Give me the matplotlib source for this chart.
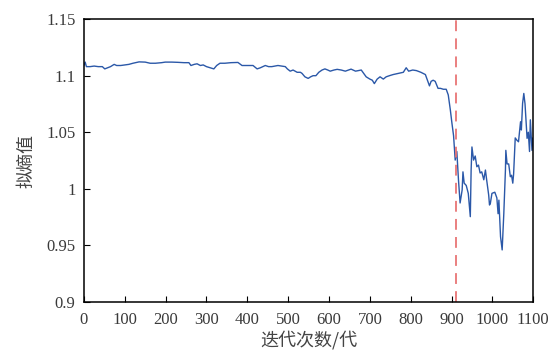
import matplotlib.pyplot as plt

plt.rcParams['font.family'] = ['Liberation Serif', 'Noto Sans CJK SC']

# iterations and entropy values
iters = [0, 3, 6, 15, 25, 35, 45, 51, 58, 65, 74, 80, 90, 100, 110, 120, 135, 150,
         162, 175, 190, 199, 215, 230, 245, 257, 262, 270, 277, 285, 292, 300, 309,
         318, 325, 333, 345, 360, 377, 387, 400, 414, 424, 432, 444, 452, 460, 475,
         493, 498, 505, 512, 522, 530, 534, 541, 549, 555, 561, 568, 575, 583, 590,
         597, 603, 612, 620, 630, 640, 654, 665, 679, 685, 691, 700, 706, 711, 718,
         725, 733, 740, 748, 757, 770, 782, 789, 795, 805, 814, 825, 836, 846, 850,
         855, 860, 867, 873, 880, 887, 892, 897, 901, 905, 909, 913, 917, 921, 926,
         928, 931, 936, 941, 946, 948, 950, 954, 958, 962, 966, 970, 974, 979, 983,
         986, 991, 993, 995, 999, 1006, 1011, 1014, 1016, 1020, 1024, 1028, 1032,
         1033, 1036, 1040, 1044, 1047, 1050, 1052, 1056, 1060, 1064, 1069, 1071,
         1074, 1077, 1080, 1085, 1088, 1091, 1093, 1097, 1099, 1100]
entropy = [1.109, 1.112, 1.108, 1.108, 1.1085, 1.108, 1.108, 1.106, 1.107, 1.108,
           1.110, 1.109, 1.109, 1.1095, 1.110, 1.111, 1.1122, 1.112, 1.111, 1.111,
           1.1115, 1.112, 1.112, 1.1118, 1.1115, 1.1115, 1.109, 1.110, 1.1105, 1.109,
           1.1095, 1.108, 1.107, 1.106, 1.109, 1.111, 1.111, 1.1115, 1.1117, 1.109,
           1.109, 1.109, 1.106, 1.107, 1.109, 1.108, 1.108, 1.109, 1.108, 1.106,
           1.104, 1.105, 1.103, 1.103, 1.102, 1.099, 1.0976, 1.099, 1.100, 1.100,
           1.103, 1.105, 1.106, 1.105, 1.104, 1.105, 1.1056, 1.105, 1.104, 1.1058,
           1.104, 1.105, 1.102, 1.099, 1.097, 1.096, 1.093, 1.097, 1.099, 1.097,
           1.099, 1.100, 1.101, 1.102, 1.103, 1.107, 1.104, 1.105, 1.1045, 1.103,
           1.101, 1.091, 1.095, 1.096, 1.095, 1.0888, 1.0888, 1.088, 1.088, 1.083,
           1.070, 1.058, 1.047, 1.0254, 1.033, 1.008, 0.9875, 0.999, 1.015, 1.005,
           1.003, 0.996, 0.9754, 1.0166, 1.037, 1.0254, 1.029, 1.0195, 1.021, 1.014,
           1.015, 1.008, 1.0166, 1.008, 0.9945, 0.9857, 0.987, 0.996, 0.997, 0.992,
           0.978, 0.990, 0.9577, 0.946, 0.978, 1.0166, 1.034, 1.022, 1.022, 1.0107,
           1.012, 1.005, 1.013, 1.045, 1.043, 1.0416, 1.0593, 1.052, 1.0755, 1.0843,
           1.075, 1.0446, 1.050, 1.033, 1.061, 1.034, 1.045, 1.040]
split_iter = 910

fig = plt.figure(figsize=(5.56, 3.54), dpi=100)
ax = fig.add_axes([0.151, 0.147, 0.808, 0.799])

ax.plot(iters, entropy, color='#2b58a8', lw=1.0)
ax.axvline(split_iter, color='#e87575', lw=1.3, ls=(0, (6, 4)))

ax.set_xlim(0, 1100)
ax.set_ylim(0.9, 1.15)
ax.set_xticks(range(0, 1101, 100))
ax.set_yticks([0.9, 0.95, 1.0, 1.05, 1.1, 1.15])
ax.set_yticklabels(['0.9', '0.95', '1', '1.05', '1.1', '1.15'])
ax.tick_params(direction='in', length=4, labelsize=12, labelcolor='#3a3a3a',
               top=False, right=False)
ax.tick_params(axis='x', pad=7)
ax.tick_params(axis='y', pad=6)
for s in ax.spines.values():
    s.set_linewidth(1.1)

ax.set_xlabel('迭代次数/代', fontsize=13, color='#444444', family='Noto Sans CJK SC',
              labelpad=2)
ax.set_ylabel('拟熵值', fontsize=13, color='#444444', family='Noto Sans CJK SC',
              labelpad=8)

fig.savefig('out.png', dpi=100)
